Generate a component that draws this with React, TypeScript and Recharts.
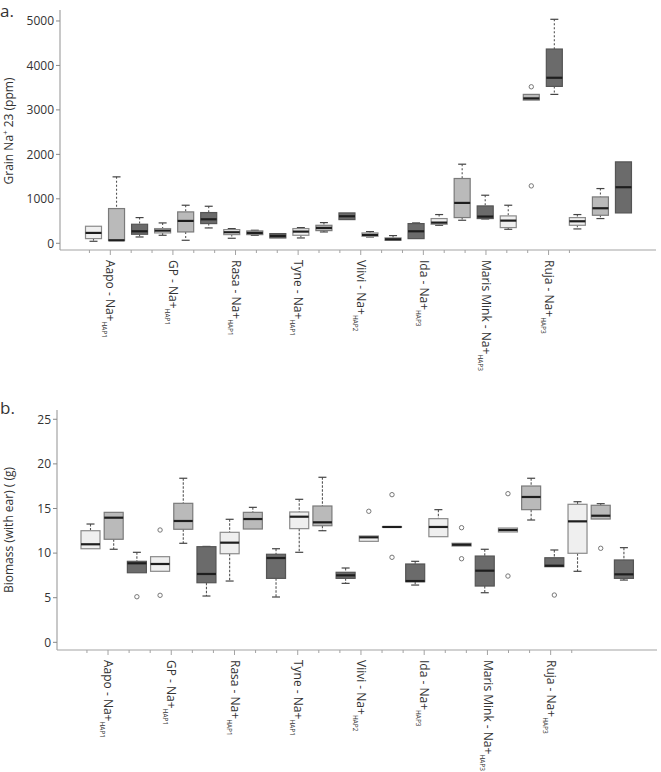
import React from 'react';
import { ComposedChart, Bar, XAxis, YAxis } from 'recharts';

// ---------- categories / labels ----------
const cultivars = ['Aapo', 'GP', 'Rasa', 'Tyne', 'Viivi', 'Ida', 'Maris Mink', 'Ruja'];
const haplotypes = ['HAP1', 'HAP1', 'HAP1', 'HAP1', 'HAP2', 'HAP3', 'HAP3', 'HAP3'];
const treatments = ['A', 'B', 'C'];

// ---------- panel a: Grain Na+ 23 (ppm) ----------
const naLo = [45, 60, 142, 180, 68, 345, 113, 180, 120, 120, 255, 533, 142, 68, 105, 405, 518, 547, 315, 3221, 3349, 323, 556, 683];
const naQ1 = [105, 60, 203, 233, 255, 443, 195, 195, 120, 180, 285, 533, 158, 68, 105, 428, 578, 556, 353, 3221, 3529, 405, 630, 683];
const naMed = [233, 68, 270, 285, 503, 540, 248, 233, 165, 263, 345, 608, 188, 90, 270, 465, 908, 601, 510, 3259, 3723, 495, 788, 1261];
const naQ3 = [383, 781, 428, 331, 706, 691, 308, 278, 218, 331, 405, 683, 233, 120, 443, 556, 1457, 840, 616, 3349, 4369, 578, 1043, 1831];
const naHi = [383, 1494, 578, 458, 856, 833, 331, 293, 218, 353, 465, 683, 263, 173, 458, 646, 1779, 1081, 856, 3349, 5038, 646, 1231, 1831];
const naOut: number[][] = [[], [], [], [], [], [], [], [], [], [], [], [], [], [], [], [], [], [], [], [3520, 1291], [], [], [], []];
const naTicks = [0, 1000, 2000, 3000, 4000, 5000];

// ---------- panel b: Biomass (with ear) (g) ----------
const bmLo = [10.49, 10.43, 7.8, 7.96, 11.1, 5.19, 6.87, 12.7, 5.08, 10.09, 12.51, 6.61, 11.32, 12.93, 6.42, 11.84, 10.8, 5.56, 12.37, 13.71, 8.48, 7.96, 13.82, 6.98];
const bmQ1 = [10.49, 11.55, 7.8, 7.96, 12.67, 6.68, 9.93, 12.7, 7.17, 12.74, 13.07, 7.17, 11.32, 12.9, 6.79, 11.84, 10.8, 6.31, 12.37, 14.87, 8.48, 9.98, 13.82, 7.17];
const bmMed = [10.99, 13.97, 8.86, 8.78, 13.6, 7.66, 11.17, 13.82, 9.45, 14.08, 13.45, 7.51, 11.77, 12.93, 6.87, 12.93, 10.94, 8.03, 12.59, 16.29, 8.59, 13.56, 14.19, 7.62];
const bmQ3 = [12.51, 14.57, 9.08, 9.6, 15.58, 10.72, 12.33, 14.57, 9.87, 14.61, 15.28, 7.85, 11.92, 12.97, 8.78, 13.86, 11.1, 9.67, 12.81, 17.52, 9.48, 15.47, 15.36, 9.23];
const bmHi = [13.26, 14.57, 10.09, 9.6, 18.39, 10.75, 13.79, 15.13, 10.49, 16.03, 18.5, 8.33, 11.92, 12.97, 9.08, 14.87, 11.1, 10.43, 12.81, 18.39, 10.35, 15.76, 15.54, 10.61];
const bmOut: number[][] = [[], [], [5.11], [12.59, 5.27], [], [], [], [], [], [], [], [], [14.69], [16.55, 9.53], [], [], [12.85, 9.37], [], [16.66, 7.43], [], [5.3], [], [10.54], []];
const bmTicks = [0, 5, 10, 15, 20, 25];

// ---------- styles ----------
const FONT = '"Open Sans", "Noto Sans", sans-serif';
const TEXT = '#333';
const FRAME = '#a3a3a3';
const FILLS = ['#efefef', '#bababa', '#6b6b6b'];
const STROKES = ['#8a8a8a', '#7a7a7a', '#555555'];

type Row = {
  id: string; shade: number; lo: number; q1: number; med: number; q3: number; hi: number;
  out: number[]; ext: [number, number];
};

function buildRows(lo: number[], q1: number[], med: number[], q3: number[], hi: number[], out: number[][]): Row[] {
  return med.map((m, i) => {
    const all = [lo[i], hi[i], q1[i], q3[i], m, ...out[i]];
    return {
      id: `${cultivars[Math.floor(i / 3)]}-${treatments[i % 3]}`,
      shade: i % 3,
      lo: lo[i], q1: q1[i], med: m, q3: q3[i], hi: hi[i], out: out[i],
      ext: [Math.min(...all), Math.max(...all)] as [number, number],
    };
  });
}

const naRows = buildRows(naLo, naQ1, naMed, naQ3, naHi, naOut);
const bmRows = buildRows(bmLo, bmQ1, bmMed, bmQ3, bmHi, bmOut);

const minorTicks = Array.from({ length: cultivars.length * 3 }, (_, k) => k + 0.5);

function makeBoxShape(dash: string) {
  return (props: any) => {
    const { x, y, width, height, payload } = props;
    if (!payload || x == null) return <g />;
    const [mn, mx] = payload.ext as [number, number];
    const top = Math.min(y, y + height);
    const bot = Math.max(y, y + height);
    const k = mx > mn ? (bot - top) / (mx - mn) : 0;
    const py = (v: number) => top + (mx - v) * k;
    const cx = x + width / 2;
    const s = payload.shade as number;
    const yq1 = py(payload.q1);
    const yq3 = py(payload.q3);
    const els: React.ReactNode[] = [];
    if (payload.hi > payload.q3) {
      els.push(<line key="wu" x1={cx} x2={cx} y1={py(payload.hi)} y2={yq3} stroke="#555" strokeWidth={1.1} strokeDasharray={dash} />);
      els.push(<line key="cu" x1={cx - 4} x2={cx + 4} y1={py(payload.hi)} y2={py(payload.hi)} stroke="#444" strokeWidth={1.2} />);
    }
    if (payload.lo < payload.q1) {
      els.push(<line key="wl" x1={cx} x2={cx} y1={yq1} y2={py(payload.lo)} stroke="#555" strokeWidth={1.1} strokeDasharray={dash} />);
      els.push(<line key="cl" x1={cx - 4} x2={cx + 4} y1={py(payload.lo)} y2={py(payload.lo)} stroke="#444" strokeWidth={1.2} />);
    }
    els.push(
      <rect key="box" x={cx - width / 2} y={yq3} width={width} height={Math.max(yq1 - yq3, 0.5)}
        fill={FILLS[s]} stroke={STROKES[s]} strokeWidth={1.2} />
    );
    els.push(<line key="med" x1={cx - width / 2} x2={cx + width / 2} y1={py(payload.med)} y2={py(payload.med)} stroke="#1e1e1e" strokeWidth={2.2} />);
    (payload.out as number[]).forEach((o, j) => {
      els.push(<circle key={`o${j}`} cx={cx} cy={py(o)} r={2.2} fill="#fff" stroke="#777" strokeWidth={1} />);
    });
    return <g>{els}</g>;
  };
}

function LabelTick(props: any) {
  const { x, y, payload } = props;
  const idx = Math.round(payload.value - 0.5);
  const major = idx % 3 === 1;
  const c = (idx - 1) / 3;
  return (
    <g>
      <line x1={x} x2={x} y1={y} y2={y + (major ? 5 : 3)} stroke={FRAME} strokeWidth={1} />
      {major && (
        <text transform={`translate(${x},${y + 10}) rotate(90)`} x={0} y={0} dy="0.32em"
          textAnchor="start" fill={TEXT} fontSize={12} fontFamily={FONT}>
          {`${cultivars[c]} - Na+`}
          <tspan fontSize={6.5} dy={4}>{haplotypes[c]}</tspan>
        </text>
      )}
    </g>
  );
}

type PanelProps = {
  rows: Row[]; height: number; top: number; yW: number; right: number; labH: number;
  domain: [number, number]; ticks: number[]; boxPad: { left: number; right: number };
  labPad: { left: number; right: number }; barSize: number; dash: string;
};

function Panel(p: PanelProps) {
  const shape = makeBoxShape(p.dash);
  return (
    <ComposedChart width={661} height={p.height} data={p.rows}
      margin={{ top: p.top, right: p.right, bottom: 0, left: 0 }}>
      <XAxis xAxisId="lab" type="number" domain={[0, cultivars.length * 3]} allowDataOverflow
        ticks={minorTicks} interval={0} padding={p.labPad} height={p.labH}
        tickSize={0} tickMargin={0} tickLine={false} tick={<LabelTick />}
        axisLine={{ stroke: FRAME, strokeWidth: 1.2 }} />
      <XAxis xAxisId="box" dataKey="id" type="category" hide height={0} padding={p.boxPad} />
      <XAxis xAxisId="frameTop" orientation="top" type="number" domain={[0, 1]} height={0}
        tick={false} tickLine={false} axisLine={{ stroke: FRAME, strokeWidth: 1.2 }} />
      <YAxis yAxisId="v" type="number" domain={p.domain} allowDataOverflow ticks={p.ticks} interval={0}
        width={p.yW} tickSize={4} tickMargin={2}
        tick={{ fill: TEXT, fontSize: 12, fontFamily: FONT }}
        tickLine={{ stroke: '#888' }} axisLine={{ stroke: FRAME, strokeWidth: 1.2 }} />
      <YAxis yAxisId="frameRight" orientation="right" type="number" domain={[0, 1]} width={0}
        tick={false} tickLine={false} axisLine={{ stroke: FRAME, strokeWidth: 1.2 }} />
      <Bar xAxisId="box" yAxisId="v" dataKey="ext" barSize={p.barSize} shape={shape}
        isAnimationActive={false} />
    </ComposedChart>
  );
}

export default function App() {
  return (
    <div style={{ position: 'absolute', left: 0, top: 0, width: 661, height: 772, background: '#fff', fontFamily: FONT }}>
      <div style={{ position: 'absolute', left: 0, top: 0 }}>
        <Panel rows={naRows} height={390} top={10} yW={60} right={5} labH={140}
          domain={[-151, 5247]} ticks={naTicks} boxPad={{ left: 21.5, right: 21.5 }}
          labPad={{ left: 19, right: 97 }} barSize={16} dash="2 2" />
      </div>
      <div style={{ position: 'absolute', left: 0, top: 390 }}>
        <Panel rows={bmRows} height={382} top={20} yW={57} right={4} labH={122}
          domain={[-0.86, 26.04]} ticks={bmTicks} boxPad={{ left: 22, right: 21.4 }}
          labPad={{ left: 19.4, right: 95.8 }} barSize={19} dash="2.5 1.5" />
      </div>
      <svg width={661} height={772} style={{ position: 'absolute', left: 0, top: 0, pointerEvents: 'none' }}>
        <text x={0} y={17} fontSize={17} fill={TEXT} fontFamily={FONT}>a.</text>
        <text x={0} y={414} fontSize={17} fill={TEXT} fontFamily={FONT}>b.</text>
        <text transform="translate(13,131) rotate(-90)" textAnchor="middle" fontSize={12} fill={TEXT} fontFamily={FONT}>
          {'Grain  Na'}<tspan fontSize={8} dy={-5}>+</tspan><tspan dy={5}>{' 23 (ppm)'}</tspan>
        </text>
        <text transform="translate(13,530) rotate(-90)" textAnchor="middle" fontSize={12} fill={TEXT} fontFamily={FONT}>
          Biomass (with ear) ( (g)
        </text>
      </svg>
    </div>
  );
}
